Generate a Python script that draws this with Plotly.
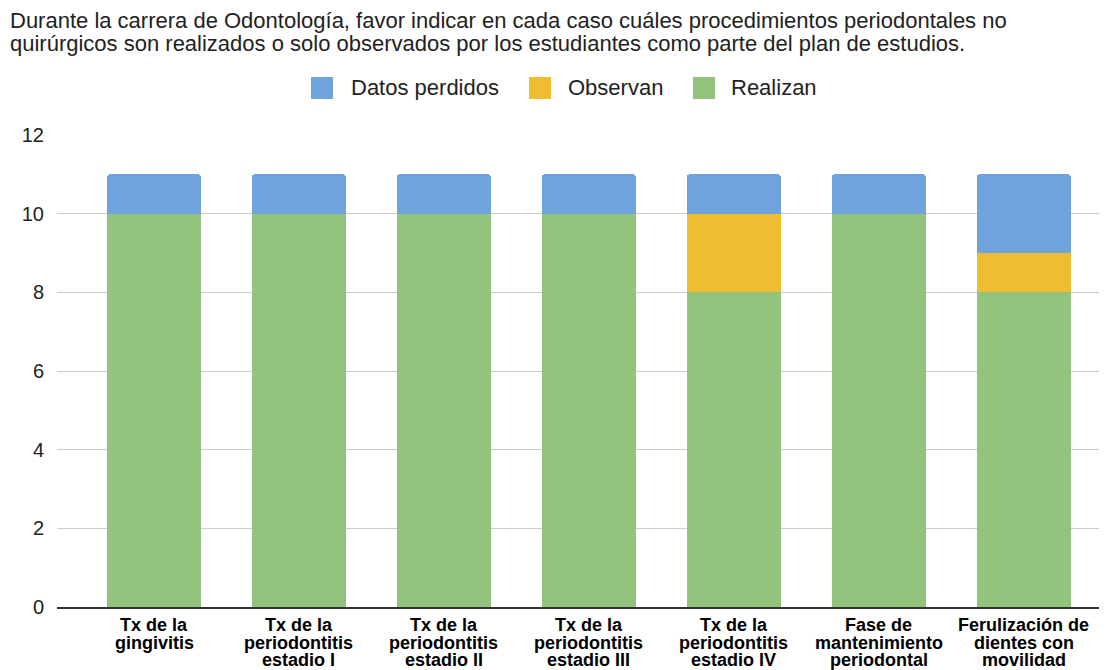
import plotly.graph_objects as go

categories = [
    ["Tx de la", "gingivitis"],
    ["Tx de la", "periodontitis", "estadio I"],
    ["Tx de la", "periodontitis", "estadio II"],
    ["Tx de la", "periodontitis", "estadio III"],
    ["Tx de la", "periodontitis", "estadio IV"],
    ["Fase de", "mantenimiento", "periodontal"],
    ["Ferulización de", "dientes con", "movilidad"],
]
realizan = [10, 10, 10, 10, 8, 10, 8]
observan = [0, 0, 0, 0, 2, 0, 1]
perdidos = [1, 1, 1, 1, 1, 1, 2]
y_ticks = [0, 2, 4, 6, 8, 10, 12]
series_names = ["Datos perdidos", "Observan", "Realizan"]
series_colors = ["#6fa3dc", "#eebd31", "#93c47d"]

title_lines = [
    "Durante la carrera de Odontología, favor indicar en cada caso cuáles procedimientos periodontales no",
    "quirúrgicos son realizados o solo observados por los estudiantes como parte del plan de estudios.",
]

FONT = "Liberation Sans, Arial, sans-serif"
OFF = 8  # page body margin
W, H = 1107 - OFF, 670 - OFF
# plot area in window pixels: x 57..1105, y 135..607
ML, MT = 57 - OFF, 135 - OFF
MR = W - (1105 - OFF)
MB = H - (607 - OFF)
PW, PH = W - ML - MR, H - MT - MB


def px_to_paper_x(px):
    return (px - OFF - ML) / PW


def px_to_paper_y(py):
    return (H - MB - (py - OFF)) / PH


x = list(range(len(categories)))

fig = go.Figure()
fig.add_trace(go.Bar(x=x, y=realizan, name=series_names[2],
                     marker=dict(color=series_colors[2], line=dict(width=0))))
fig.add_trace(go.Bar(x=x, y=observan, name=series_names[1],
                     marker=dict(color=series_colors[1], line=dict(width=0))))
fig.add_trace(go.Bar(x=x, y=perdidos, name=series_names[0],
                     marker=dict(color=series_colors[0], line=dict(width=0), cornerradius=3)))

annotations = []
shapes = []

# Title (two lines)
for i, line in enumerate(title_lines):
    annotations.append(dict(
        text=line, xref="paper", yref="paper",
        x=px_to_paper_x(8), y=px_to_paper_y(20 + 23 * i),
        xanchor="left", yanchor="middle", showarrow=False,
        font=dict(size=22, family=FONT, color="#222222"),
    ))

# Custom legend
legend_sq = [311, 529, 693]
legend_tx = [349, 566, 729]
for name, color, sx, tx in zip(series_names, series_colors, legend_sq, legend_tx):
    shapes.append(dict(
        type="rect", xref="paper", yref="paper",
        x0=px_to_paper_x(sx), x1=px_to_paper_x(sx + 22),
        y0=px_to_paper_y(99), y1=px_to_paper_y(77),
        fillcolor=color, line=dict(width=0), layer="above",
    ))
    annotations.append(dict(
        text=name, xref="paper", yref="paper",
        x=px_to_paper_x(tx), y=px_to_paper_y(88),
        xanchor="left", yanchor="middle", showarrow=False,
        font=dict(size=22, family=FONT, color="#222222"),
    ))

# X category labels, one annotation per line for tight line spacing
for xi, lines in zip(x, categories):
    for j, line in enumerate(lines):
        annotations.append(dict(
            text="<b>%s</b>" % line, xref="x", yref="paper",
            x=xi, y=px_to_paper_y(625 + 17.5 * j),
            xanchor="center", yanchor="middle", showarrow=False,
            font=dict(size=18, family=FONT, color="#000000"),
        ))

fig.update_layout(
    width=W, height=H,
    barmode="stack", bargap=0.352,
    plot_bgcolor="white", paper_bgcolor="white",
    margin=dict(l=ML, r=MR, t=MT, b=MB, autoexpand=False),
    font=dict(family=FONT, color="#000000"),
    showlegend=False,
    annotations=annotations,
    shapes=shapes,
    xaxis=dict(
        tickmode="array", tickvals=x, showticklabels=False,
        range=[-0.669, 6.559], showgrid=False, ticks="", automargin=False,
        showline=True, linecolor="#333333", linewidth=2,
    ),
    yaxis=dict(
        range=[0, 12], tickvals=y_ticks, showgrid=True, gridcolor="#cccccc", gridwidth=1,
        tickfont=dict(size=20, family=FONT, color="#222222"), ticks="",
        zeroline=False, ticklabelstandoff=12, automargin=False,
    ),
)
fig.write_html("out.html")
